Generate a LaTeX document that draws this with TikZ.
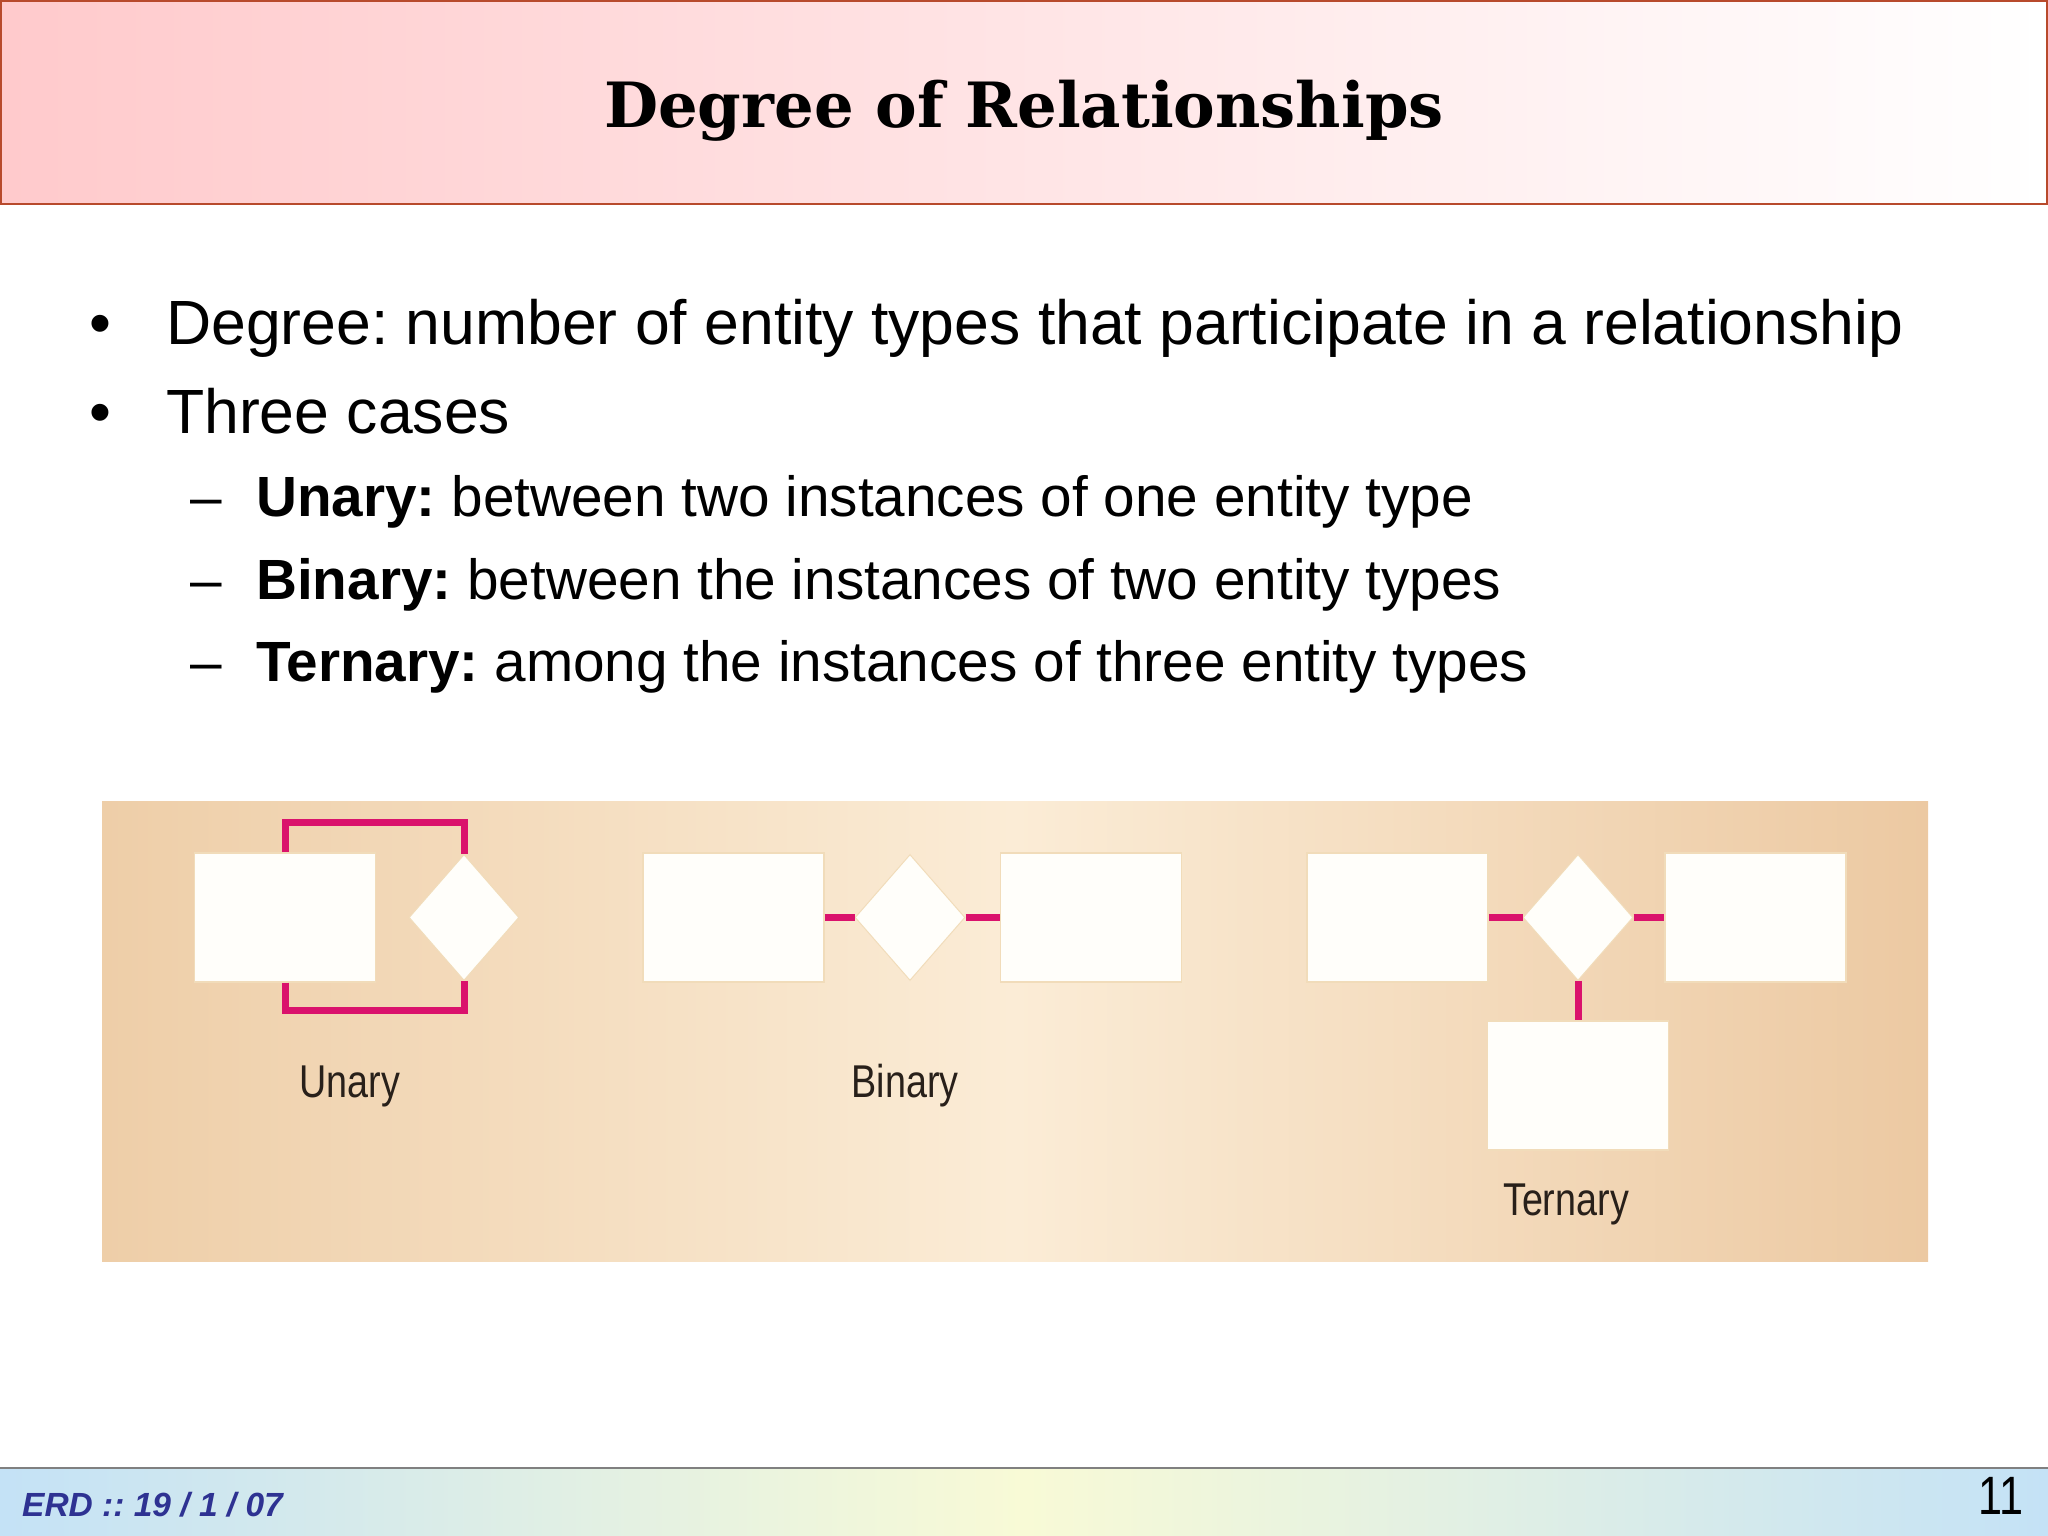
\documentclass[tikz,border=0pt]{standalone}
\usepackage{fontspec}
\setmainfont{Liberation Sans}
\newfontfamily\titlefont{DejaVu Serif}
\usetikzlibrary{shapes.geometric}
\frenchspacing

\definecolor{titlepink}{RGB}{255,202,204}
\definecolor{titleedge}{RGB}{184,74,44}
\definecolor{panelside}{RGB}{238,206,168}
\definecolor{panelmid}{RGB}{251,236,214}
\definecolor{panelright}{RGB}{236,201,162}
\definecolor{entityfill}{RGB}{255,254,250}
\definecolor{entityedge}{RGB}{241,220,186}
\definecolor{relpink}{RGB}{218,18,108}
\definecolor{captiontext}{RGB}{40,32,26}
\definecolor{footblue}{RGB}{196,226,246}
\definecolor{footyellow}{RGB}{248,250,214}
\definecolor{footink}{RGB}{46,50,146}

\tikzset{
	entity/.style={draw=entityedge, line width=1.5pt, fill=entityfill, minimum width=181pt, minimum height=129pt, inner sep=0pt},
	relation/.style={diamond, draw=entityedge, line width=1pt, fill=entityfill, minimum width=110pt, minimum height=126pt, inner sep=0pt},
	relline/.style={draw=relpink, line width=7pt},
	caption/.style={text=captiontext, inner sep=0pt, font=\fontsize{46}{50}\selectfont},
	bodytext/.style={anchor=base west, inner sep=0pt, font=\fontsize{62.5}{70}\selectfont},
	subtext/.style={anchor=base west, inner sep=0pt, font=\fontsize{56.7}{64}\selectfont}
}

\begin{document}
\begin{tikzpicture}[x=1pt, y=1pt]
			%%%%% START %%%%%
			\useasboundingbox (0,0) rectangle (2048,1536);
			
			% title bar
			\shade[left color=titlepink, right color=white] (0,1331) rectangle (2048,1536);
			\draw[titleedge, line width=2pt] (1,1332) rectangle (2047,1535);
			\node[anchor=base, inner sep=0pt, font=\titlefont\bfseries\fontsize{62.4}{68}\selectfont] (title) at (1024,1408) {Degree of Relationships};
			
			% bullets
			\node[bodytext] (dot1) at (89,1191) {•};
			\node[bodytext] (line1) at (166,1191) {Degree: number of entity types that participate in a relationship};
			\node[bodytext] (dot2) at (89,1102) {•};
			\node[bodytext] (line2) at (166,1102) {Three cases};
			
			\node[subtext] (dash1) at (190,1019) {–};
			\node[subtext] (unaryline) at (256,1019) {\textbf{Unary:} between two instances of one entity type};
			\node[subtext] (dash2) at (190,936) {–};
			\node[subtext] (binaryline) at (256,936) {\textbf{Binary:} between the instances of two entity types};
			\node[subtext] (dash3) at (190,854) {–};
			\node[subtext] (ternaryline) at (256,854) {\textbf{Ternary:} among the instances of three entity types};
			
			% picture panel
			\shade[left color=panelside, right color=panelright, middle color=panelmid] (102,274) rectangle (1928,734);
			
			% unary
			\node[entity] (uent) at (285,618.5) {};
			\node[relation] (urel) at (464,618.5) {};
			\draw[relline] (uent.north) -- ++(0,30) -| (urel.north);
			\draw[relline] (uent.south) -- ++(0,-28) -| (urel.south);
			\node[caption] (ucap) at (350,450) {\scalebox{0.82}[1]{Unary}};
			
			% binary
			\node[entity] (bent1) at (733.5,618.5) {};
			\node[relation] (brel) at (910,618.5) {};
			\node[entity] (bent2) at (1091,618.5) {};
			\draw[relline] (bent1.east) -- (brel.west);
			\draw[relline] (brel.east) -- (bent2.west);
			\node[caption] (bcap) at (905,450) {\scalebox{0.82}[1]{Binary}};
			
			% ternary
			\node[entity] (tent1) at (1397.5,618.5) {};
			\node[relation] (trel) at (1578,618.5) {};
			\node[entity] (tent2) at (1755.5,618.5) {};
			\node[entity] (tent3) at (1578,450.5) {};
			\draw[relline] (tent1.east) -- (trel.west);
			\draw[relline] (trel.east) -- (tent2.west);
			\draw[relline] (trel.south) -- (tent3.north);
			\node[caption] (tcap) at (1566,332) {\scalebox{0.82}[1]{Ternary}};
			
			% footer
			\shade[left color=footblue, right color=footblue, middle color=footyellow] (0,0) rectangle (2048,68);
			\draw[gray, line width=2pt] (0,68) -- (2048,68);
			\node[anchor=base west, inner sep=0pt, text=footink, font=\bfseries\itshape\fontsize{33.5}{36}\selectfont] (footdate) at (22,19) {ERD :: 19 / 1 / 07};
			\node[anchor=base east, inner sep=0pt, font=\fontsize{54}{58}\selectfont] (pagenum) at (2024,21) {\scalebox{0.8}[1]{11}};
			%%%%% END %%%%%
\end{tikzpicture}
\end{document}
